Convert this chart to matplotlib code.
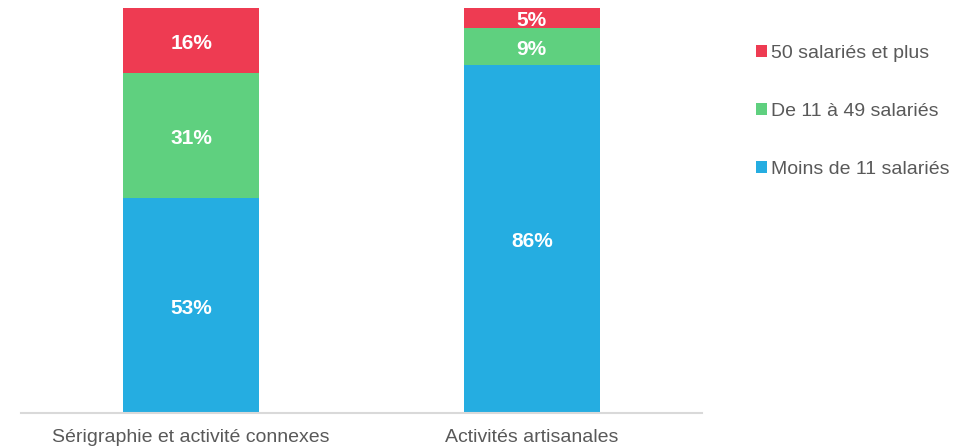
import matplotlib.pyplot as plt

plt.rcParams['font.family'] = ['Liberation Sans', 'DejaVu Sans']

categories = ['Sérigraphie et activité connexes', 'Activités artisanales']
moins_11 = [53, 86]
de_11_49 = [31, 9]
plus_50 = [16, 5]
series_names = ['Moins de 11 salariés', 'De 11 à 49 salariés', '50 salariés et plus']
colors = ['#25ADE1', '#5FD07F', '#EE3B52']

fig = plt.figure(figsize=(9.77, 4.48), dpi=100)
ax = fig.add_axes([21 / 977, 35 / 448, 681 / 977, 405 / 448])

x = range(len(categories))
bottom = [0, 0]
for vals, name, c in zip([moins_11, de_11_49, plus_50], series_names, colors):
    ax.bar(x, vals, width=0.4, bottom=bottom, color=c, label=name)
    for xi, v, bt in zip(x, vals, bottom):
        ax.annotate(f'{v}%', (xi, bt + v / 2), xytext=(0, -2),
                    textcoords='offset points', ha='center', va='center',
                    color='white', fontsize=15, fontweight='bold')
    bottom = [a + v for a, v in zip(bottom, vals)]

ax.set_xlim(-0.5, 1.5)
ax.set_ylim(0, 100)
ax.set_yticks([])
ax.set_xticks(list(x))
ax.set_xticklabels(categories, fontsize=14, color='#595959')
ax.tick_params(axis='x', length=0, pad=11.5)
for s in ['top', 'right', 'left']:
    ax.spines[s].set_visible(False)
ax.spines['bottom'].set_color('#D9D9D9')
ax.spines['bottom'].set_linewidth(1.5)

handles, labels = ax.get_legend_handles_labels()
fig.legend(handles[::-1], labels[::-1], loc='upper left',
           bbox_to_anchor=(756 / 977, 1 - 45 / 448), frameon=False,
           borderpad=0, borderaxespad=0,
           fontsize=14, labelcolor='#595959', labelspacing=2.1,
           handlelength=0.55, handleheight=0.55, handletextpad=0.2)

fig.savefig('out.png', dpi=100)
